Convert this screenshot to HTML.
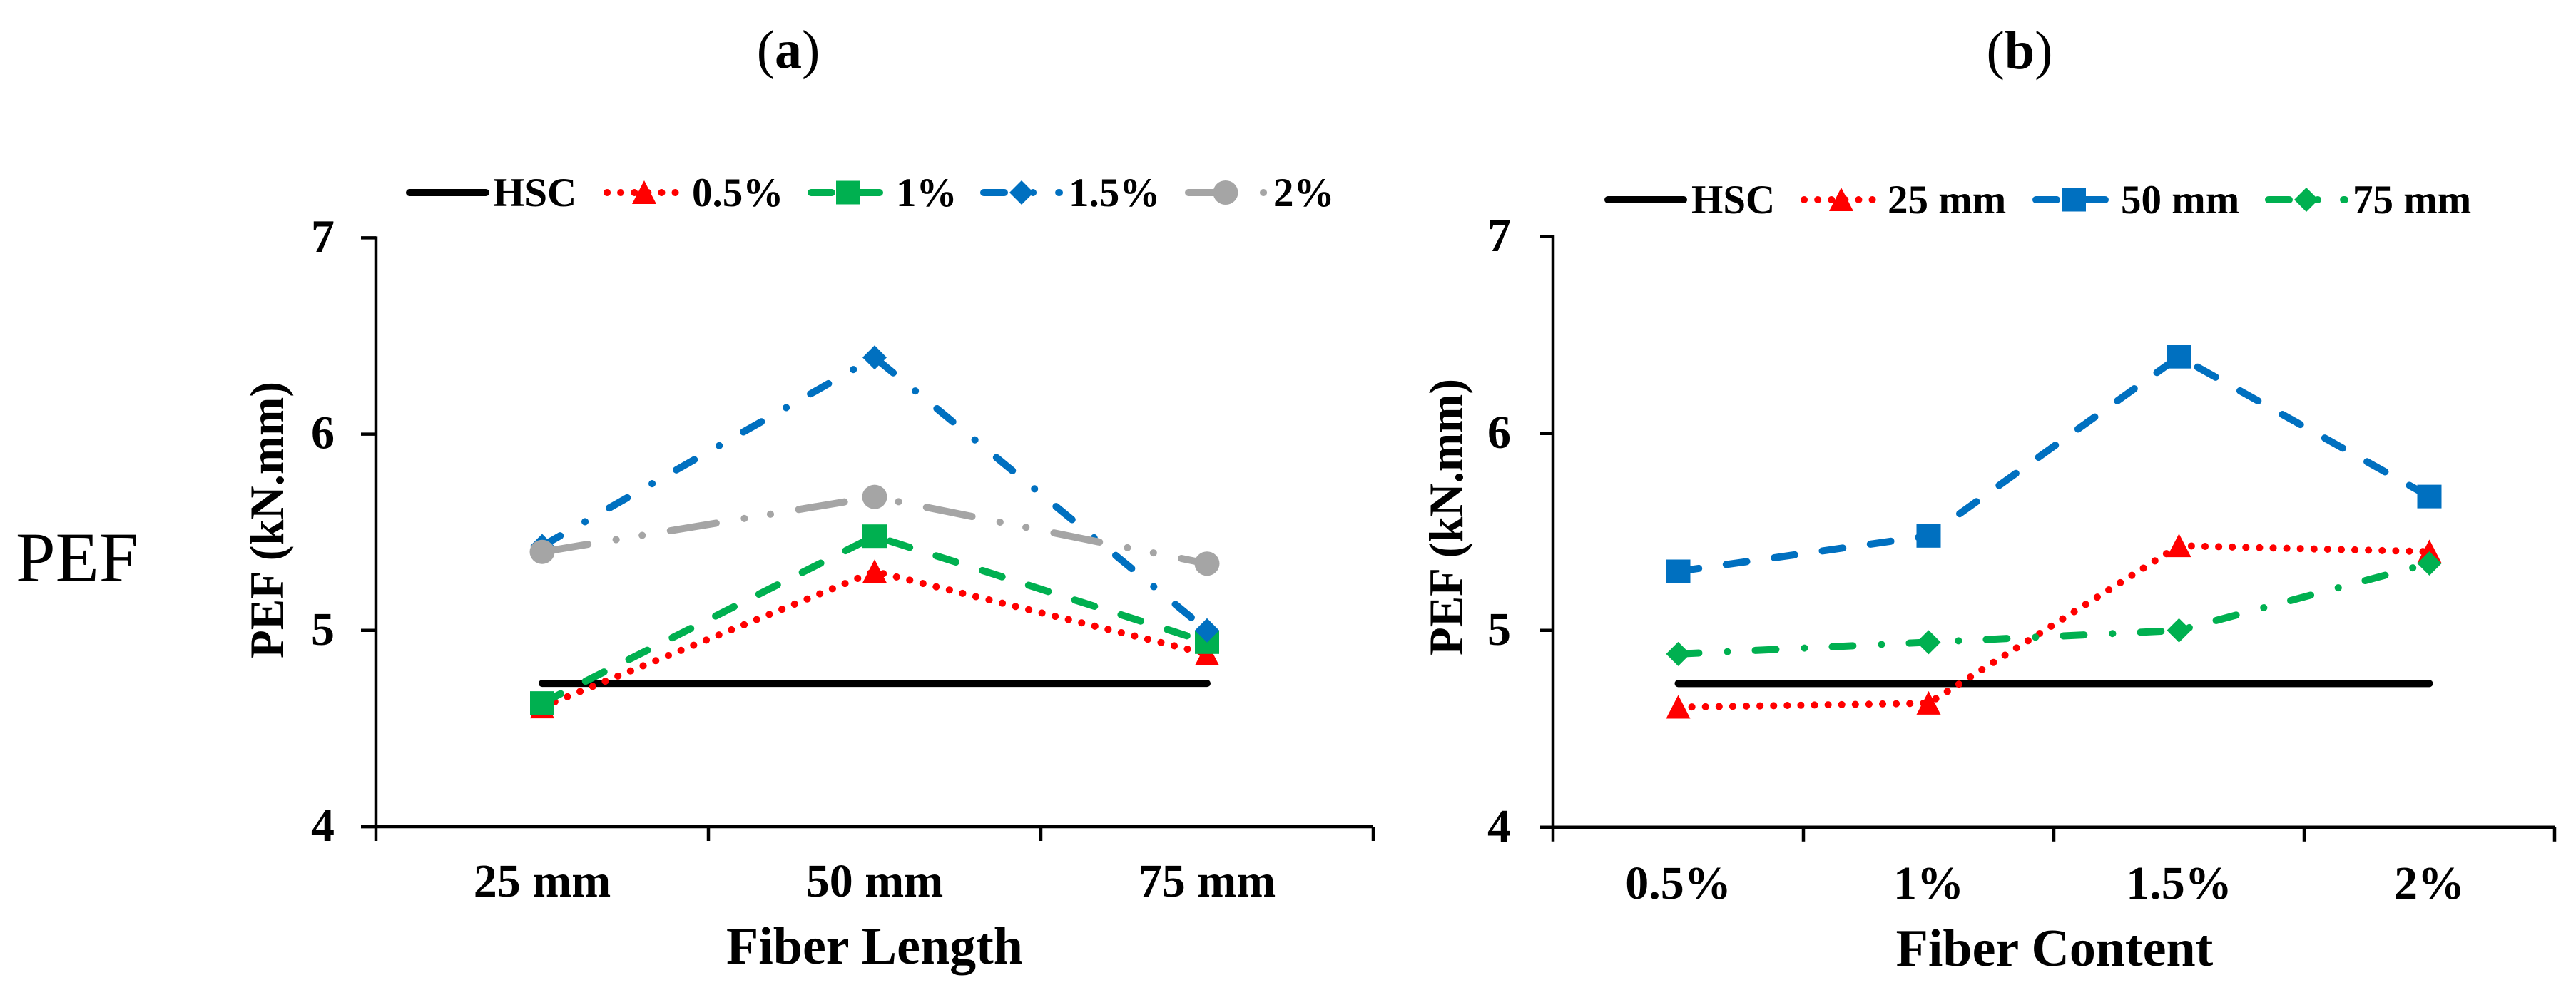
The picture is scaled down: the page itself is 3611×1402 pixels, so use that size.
<!DOCTYPE html>
<html lang="en">
<head>
<meta charset="utf-8">
<title>PEF charts</title>
<style>
html,body{margin:0;padding:0;background:#fff;}
#stage{display:block;width:3611px;height:1402px;background:#fff;}
text{font-family:"Liberation Serif",serif;fill:#000;}
.b{font-weight:bold;}
</style>
</head>
<body>
<svg id="stage" xmlns="http://www.w3.org/2000/svg" width="3611" height="1402" viewBox="0 0 3611 1402">
  <text x="1105" y="95" font-size="76" text-anchor="middle">(<tspan class="b">a</tspan>)</text>
  <text x="2831" y="96" font-size="76" text-anchor="middle">(<tspan class="b">b</tspan>)</text>
  <text x="22" y="815" font-size="100">PEF</text>
  <g id="chartA">
    <text class="b" x="1226" y="1351" font-size="74" text-anchor="middle">Fiber Length</text>
    <text class="b" transform="translate(397,729) rotate(-90)" font-size="68" text-anchor="middle" textLength="388" lengthAdjust="spacingAndGlyphs">PEF (kN.mm)</text>
  </g>
  <g id="chartB">
    <text class="b" x="2880" y="1354" font-size="74" text-anchor="middle">Fiber Content</text>
    <text class="b" transform="translate(2050,725) rotate(-90)" font-size="68" text-anchor="middle" textLength="388" lengthAdjust="spacingAndGlyphs">PEF (kN.mm)</text>
  </g>
</svg>
<script>
// ---- chart data ----
const yTickLabels = [4, 5, 6, 7];

const categoriesA = ['25 mm', '50 mm', '75 mm'];
const hscA = [4.73, 4.73, 4.73];
const fiber05 = [4.61, 5.30, 4.88];
const fiber1 = [4.63, 5.48, 4.94];
const fiber15 = [5.43, 6.39, 5.00];
const fiber2 = [5.40, 5.68, 5.34];

const categoriesB = ['0.5%', '1%', '1.5%', '2%'];
const hscB = [4.73, 4.73, 4.73, 4.73];
const length25 = [4.61, 4.63, 5.43, 5.40];
const length50 = [5.30, 5.48, 6.39, 5.68];
const length75 = [4.88, 4.94, 5.00, 5.34];

// ---- styles ----
const NS = 'http://www.w3.org/2000/svg';
const RED = '#ff0000', GREEN = '#00b050', BLUE = '#0070c0', GREY = '#a5a5a5';
const DOT = '0.1 19';
const DASH = '29 39';
const DASHDOT = '29 40 0.1 39';
const DASHDOTDOT = '65 40 0.1 37 0.1 40';
const LEGEND_DASHDOT = '29 40 0.1 36';

function make(tag, attrs, parent, text) {
  const node = document.createElementNS(NS, tag);
  for (const k in attrs) node.setAttribute(k, attrs[k]);
  if (text !== undefined) node.textContent = text;
  parent.appendChild(node);
  return node;
}

function drawMarker(parent, kind, cx, cy, color) {
  let el;
  if (kind === 'triangle') {
    el = make('polygon', {points: (cx - 17) + ',' + (cy + 16) + ' ' + (cx + 17) + ',' + (cy + 16) + ' ' + cx + ',' + (cy - 17), fill: color}, parent);
  } else if (kind === 'square') {
    el = make('rect', {x: cx - 17, y: cy - 16.5, width: 34, height: 33, fill: color}, parent);
  } else if (kind === 'diamond') {
    el = make('polygon', {points: (cx - 17) + ',' + cy + ' ' + cx + ',' + (cy - 17) + ' ' + (cx + 17) + ',' + cy + ' ' + cx + ',' + (cy + 17), fill: color}, parent);
  } else {
    el = make('ellipse', {cx: cx, cy: cy, rx: 17.5, ry: 17, fill: color}, parent);
  }
  
  
}

function drawSeries(parent, name, values, xFn, yFn, color, dash, marker) {
  const g = make('g', {}, parent);
  
  
  const pts = values.map((v, i) => xFn(i) + ',' + yFn(v)).join(' ');
  const attrs = {points: pts, fill: 'none', stroke: color, 'stroke-width': 10, 'stroke-linecap': 'round', 'stroke-linejoin': 'round'};
  if (dash) attrs['stroke-dasharray'] = dash;
  const line = make('polyline', attrs, g);
  
  
  if (marker) values.forEach((v, i) => drawMarker(g, marker, xFn(i), yFn(v), color));
}

function drawAxes(parent, axisX, axisRight, axisY, tickLeft, xStep, categories, xFn, yFn, tickRight, labelBase, xLabelBase) {
  const common = {stroke: '#000', 'stroke-width': 4.5, 'stroke-linecap': 'butt'};
  const yAxis = make('line', Object.assign({x1: axisX, x2: axisX, y1: yFn(7) - 2, y2: axisY + 20}, common), parent);
  
  
  const xAxis = make('line', Object.assign({x1: tickLeft, x2: axisRight, y1: axisY, y2: axisY}, common), parent);
  
  
  yTickLabels.forEach(t => {
    const tm = make('line', Object.assign({x1: tickLeft, x2: axisX, y1: yFn(t), y2: yFn(t)}, common), parent);
    
    
    const tl = make('text', {x: tickRight, y: yFn(t) + labelBase, 'font-size': 66, 'text-anchor': 'end', class: 'b'}, parent, String(t));
    
    
  });
  for (let i = 1; i <= categories.length; i++) {
    const px = axisX + i * xStep;
    const tm = make('line', Object.assign({x1: px, x2: px, y1: axisY, y2: axisY + 20}, common), parent);
    
    
  }
  categories.forEach((c, i) => {
    const tl = make('text', {x: xFn(i), y: xLabelBase, 'font-size': 66, 'text-anchor': 'middle', class: 'b'}, parent, c);
    
    
  });
}

function legendEntry(parent, label, color, dash, marker, x0, x1, markerX, textX, cy, base) {
  const g = make('g', {}, parent);
  
  
  const attrs = {x1: x0 + 5, x2: x1 - 4, y1: cy, y2: cy, stroke: color, 'stroke-width': 10, 'stroke-linecap': 'round'};
  if (dash) attrs['stroke-dasharray'] = dash;
  const l = make('line', attrs, g);
  
  
  if (marker) drawMarker(g, marker, markerX, cy, color);
  const t = make('text', {x: textX, y: base, 'font-size': 57, class: 'b'}, g, label);
  
  
}

// ---- chart (a) ----
const gA = document.getElementById('chartA');
const xA = i => 527 + (i + 0.5) * 466;
const yA = v => 1159 - (v - 4) * 275.2;
drawAxes(gA, 527, 1925, 1159, 506, 466, categoriesA, xA, yA, 469, 20, 1257);
drawSeries(gA, 'hsc', hscA, xA, yA, '#000', null, null);
drawSeries(gA, 'fiber-0-5-percent', fiber05, xA, yA, RED, DOT, 'triangle');
drawSeries(gA, 'fiber-1-percent', fiber1, xA, yA, GREEN, DASH, 'square');
drawSeries(gA, 'fiber-1-5-percent', fiber15, xA, yA, BLUE, DASHDOT, 'diamond');
drawSeries(gA, 'fiber-2-percent', fiber2, xA, yA, GREY, DASHDOTDOT, 'circle');
legendEntry(gA, 'HSC', '#000', null, null, 569, 685, 0, 691, 270, 289);
legendEntry(gA, '0.5%', RED, DOT, 'triangle', 846, 952, 903, 970, 270, 289);
legendEntry(gA, '1%', GREEN, DASH, 'square', 1132, 1237, 1189, 1256, 270, 289);
legendEntry(gA, '1.5%', BLUE, LEGEND_DASHDOT, 'diamond', 1374, 1489, 1432, 1498, 270, 289);
legendEntry(gA, '2%', GREY, DASHDOTDOT, 'circle', 1661, 1776, 1718, 1785, 270, 289);

// ---- chart (b) ----
const gB = document.getElementById('chartB');
const xB = i => 2177 + (i + 0.5) * 351;
const yB = v => 1159.8 - (v - 4) * 276;
drawAxes(gB, 2177, 3581, 1159.8, 2159, 351, categoriesB, xB, yB, 2118, 20, 1260);
drawSeries(gB, 'hsc', hscB, xB, yB, '#000', null, null);
drawSeries(gB, 'length-25-mm', length25, xB, yB, RED, DOT, 'triangle');
drawSeries(gB, 'length-50-mm', length50, xB, yB, BLUE, DASH, 'square');
drawSeries(gB, 'length-75-mm', length75, xB, yB, GREEN, DASHDOT, 'diamond');
legendEntry(gB, 'HSC', '#000', null, null, 2249, 2364, 0, 2371, 280, 299);
legendEntry(gB, '25 mm', RED, DOT, 'triangle', 2524, 2629, 2581, 2646, 280, 299);
legendEntry(gB, '50 mm', BLUE, DASH, 'square', 2849, 2956, 2907, 2973, 280, 299);
legendEntry(gB, '75 mm', GREEN, LEGEND_DASHDOT, 'diamond', 3175, 3291, 3233, 3298, 280, 299);
</script>
</body>
</html>
